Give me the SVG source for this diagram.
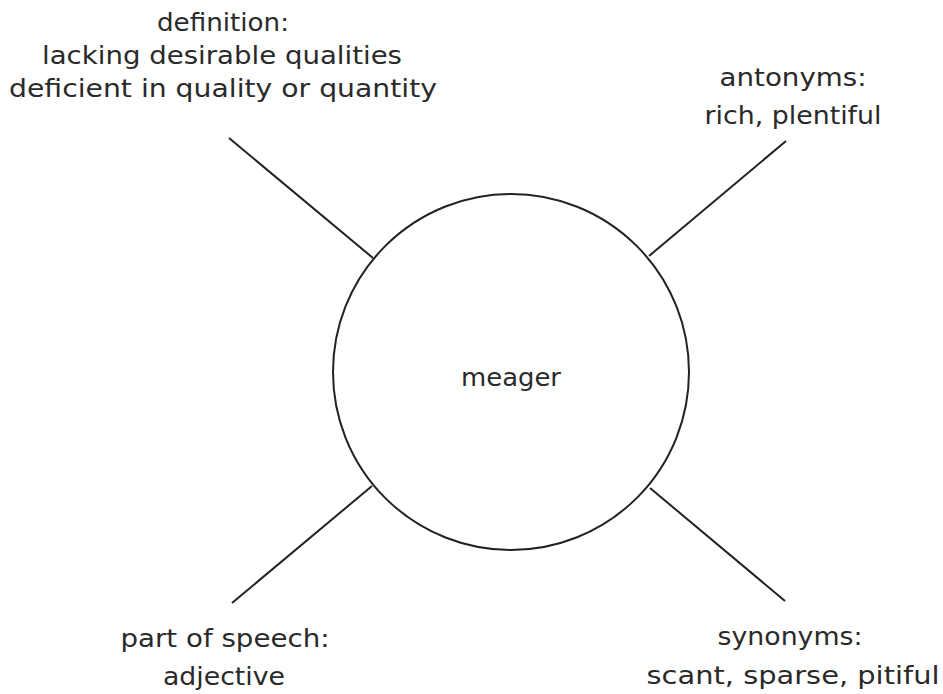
<svg xmlns="http://www.w3.org/2000/svg" width="943" height="694" viewBox="0 0 943 694">
<style>
.t{font-family:"DejaVu Sans","Liberation Sans",sans-serif;font-size:25px;fill:#2a2a2a;text-anchor:middle}
.c{stroke:#222;stroke-width:2;fill:none}
</style>
<rect width="943" height="694" fill="#fff"/>
<g id="connectors">
<line class="c" x1="229" y1="138" x2="373" y2="258"/>
<line class="c" x1="786" y1="141" x2="649" y2="256"/>
<line class="c" x1="372" y1="486" x2="232" y2="603"/>
<line class="c" x1="650" y1="488" x2="785" y2="601"/>
</g>
<g id="center">
<circle class="c" cx="511" cy="372" r="178"/>
<text class="t" x="511" y="386" textLength="100" lengthAdjust="spacingAndGlyphs">meager</text>
</g>
<g id="definition">
<text class="t" x="223" y="31" textLength="132" lengthAdjust="spacingAndGlyphs">definition:</text>
<text class="t" x="222" y="64" textLength="360" lengthAdjust="spacingAndGlyphs">lacking desirable qualities</text>
<text class="t" x="223" y="97" textLength="428" lengthAdjust="spacingAndGlyphs">deficient in quality or quantity</text>
</g>
<g id="antonyms">
<text class="t" x="793" y="86" textLength="147" lengthAdjust="spacingAndGlyphs">antonyms:</text>
<text class="t" x="793" y="124" textLength="177" lengthAdjust="spacingAndGlyphs">rich, plentiful</text>
</g>
<g id="part-of-speech">
<text class="t" x="225" y="647" textLength="209" lengthAdjust="spacingAndGlyphs">part of speech:</text>
<text class="t" x="224" y="685" textLength="122" lengthAdjust="spacingAndGlyphs">adjective</text>
</g>
<g id="synonyms">
<text class="t" x="790" y="645" textLength="145" lengthAdjust="spacingAndGlyphs">synonyms:</text>
<text class="t" x="793" y="684" textLength="293" lengthAdjust="spacingAndGlyphs">scant, sparse, pitiful</text>
</g>
</svg>
